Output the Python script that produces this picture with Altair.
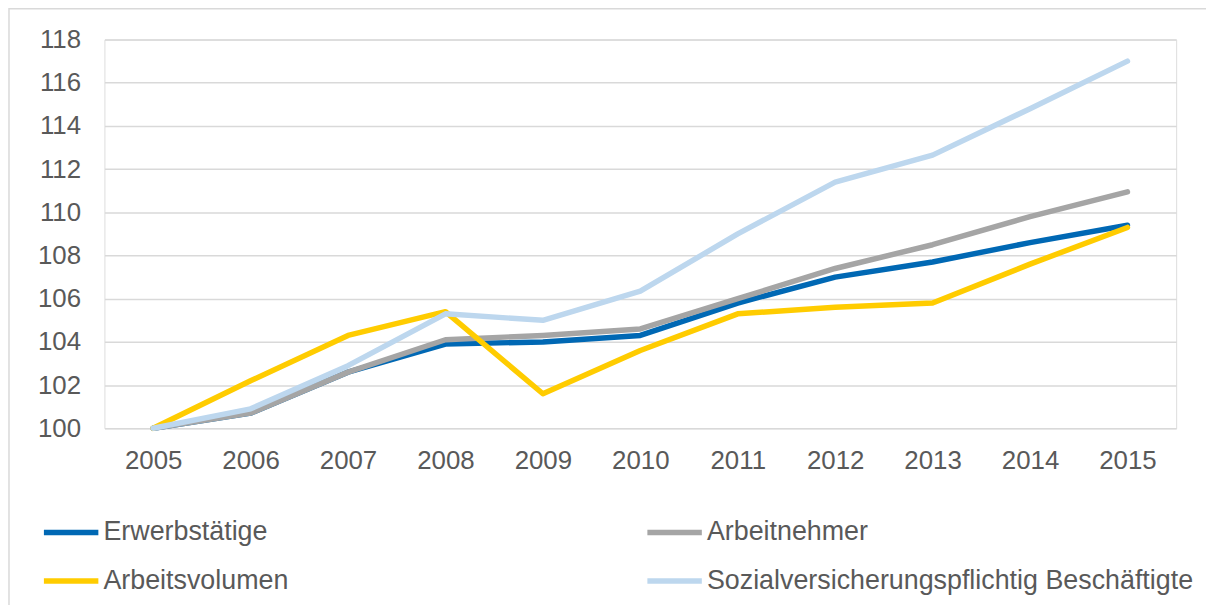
import altair as alt
import pandas as pd

years = [str(y) for y in range(2005, 2016)]
series_names = ["Erwerbstätige", "Arbeitnehmer", "Arbeitsvolumen",
                "Sozialversicherungspflichtig Beschäftigte"]
erwerbstaetige = [100.0, 100.7, 102.6, 103.9, 104.0, 104.3, 105.8, 107.0, 107.7, 108.6, 109.4]
arbeitnehmer = [100.0, 100.7, 102.6, 104.1, 104.3, 104.6, 106.0, 107.4, 108.5, 109.8, 110.95]
arbeitsvolumen = [100.0, 102.2, 104.3, 105.4, 101.6, 103.6, 105.3, 105.6, 105.8, 107.6, 109.3]
sozialvers = [100.0, 100.9, 102.9, 105.3, 105.0, 106.35, 109.0, 111.4, 112.65, 114.8, 117.0]
colors = ["#0068B4", "#A5A5A5", "#FFCC00", "#BDD7EE"]

rows = []
for name, vals in zip(series_names, [erwerbstaetige, arbeitnehmer, arbeitsvolumen, sozialvers]):
    for i, (y, v) in enumerate(zip(years, vals)):
        rows.append({"Jahr": y, "Wert": v, "Serie": name, "order": series_names.index(name)})
df = pd.DataFrame(rows)

FONT = "Liberation Sans"
TXT = "#595959"
FS = 26
LFS = 27

lines = alt.Chart(df).mark_line(strokeWidth=5.5, strokeCap="round", strokeJoin="round").encode(
    x=alt.X("Jahr:N", sort=years, title=None,
            scale=alt.Scale(paddingInner=1, paddingOuter=0.5),
            axis=alt.Axis(labelAngle=0, labelFontSize=FS, labelColor=TXT, labelFont=FONT,
                          ticks=False, domain=False, labelPadding=19, grid=False)),
    y=alt.Y("Wert:Q", title=None,
            scale=alt.Scale(domain=[100, 118], nice=False, zero=False),
            axis=alt.Axis(values=list(range(100, 119, 2)), labelFontSize=FS, labelColor=TXT,
                          labelFont=FONT, ticks=False, domain=False, labelPadding=24,
                          grid=True, gridColor="#D9D9D9", gridWidth=1.5)),
    color=alt.Color("Serie:N", sort=series_names,
                    scale=alt.Scale(domain=series_names, range=colors),
                    legend=alt.Legend(title=None, orient="none", legendX=-64, legendY=465,
                                      direction="horizontal", columns=2, columnPadding=349,
                                      rowPadding=5,
                                      symbolType="stroke", symbolSize=3000, symbolStrokeWidth=5.5,
                                      labelFontSize=LFS, labelColor=TXT, labelFont=FONT,
                                      labelOffset=2, labelLimit=700)),
    order=alt.Order("order:Q"),
)

frame = alt.Chart(pd.DataFrame({"a": [0]})).mark_rect(
    fill=None, stroke="#D9D9D9", strokeWidth=1.5, clip=False
).encode(x=alt.value(-96), x2=alt.value(1110), y=alt.value(-31), y2=alt.value(600))

chart = alt.layer(frame, lines).properties(
    width=1078, height=391,
    padding={"left": 97, "top": 30, "right": 30, "bottom": 176},
    autosize=alt.AutoSizeParams(type="none"),
).configure_view(stroke=None).configure(font=FONT)

chart.save("out.html", embed_options={"renderer": "svg", "actions": False})
